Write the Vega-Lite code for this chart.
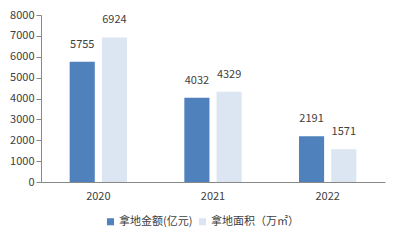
{
  "$schema": "https://vega.github.io/schema/vega-lite/v6.json",
  "width": 344,
  "height": 167,
  "autosize": {"type": "none"},
  "padding": {"left": 41, "top": 15, "right": 16, "bottom": 60},
  "background": "white",
  "config": {
    "view": {"stroke": null},
    "font": "Noto Sans CJK SC",
    "axis": {"labelFont": "Noto Sans CJK SC", "labelColor": "#404040", "labelFontSize": 11, "domainColor": "#888888", "tickColor": "#888888", "grid": false, "title": null}
  },
  "data": {
    "values": [
      {"year": "2020", "series": "拿地金额(亿元)", "value": 5755},
      {"year": "2020", "series": "拿地面积（万㎡）", "value": 6924},
      {"year": "2021", "series": "拿地金额(亿元)", "value": 4032},
      {"year": "2021", "series": "拿地面积（万㎡）", "value": 4329},
      {"year": "2022", "series": "拿地金额(亿元)", "value": 2191},
      {"year": "2022", "series": "拿地面积（万㎡）", "value": 1571}
    ]
  },
  "encoding": {
    "x": {"field": "year", "type": "nominal", "scale": {"paddingInner": 0.5, "paddingOuter": 0.25},
      "axis": {"labelAngle": 0, "ticks": false, "labelPadding": 8}},
    "xOffset": {"field": "series", "type": "nominal", "sort": ["拿地金额(亿元)", "拿地面积（万㎡）"], "scale": {"paddingInner": 0.22}},
    "y": {"field": "value", "type": "quantitative", "scale": {"domain": [0, 8000]},
      "axis": {"values": [0,1000,2000,3000,4000,5000,6000,7000,8000], "format": "d", "tickSize": 5, "labelPadding": 2}}
  },
  "layer": [
    {
      "mark": {"type": "bar"},
      "encoding": {
        "color": {"field": "series", "type": "nominal", "sort": ["拿地金额(亿元)", "拿地面积（万㎡）"],
          "scale": {"range": ["#4f81bd", "#dce6f2"]},
          "legend": {"title": null, "orient": "none", "direction": "horizontal", "legendX": 64, "legendY": 201,
            "symbolType": "square", "symbolSize": 50, "labelFontSize": 11, "labelColor": "#404040", "labelFont": "Noto Sans CJK SC", "columnPadding": 4, "symbolOffset": 0, "labelOffset": 3}}
      }
    },
    {
      "mark": {"type": "text", "dy": -12, "baseline": "bottom", "fontSize": 11, "color": "#404040", "font": "Noto Sans CJK SC"},
      "encoding": {"text": {"field": "value", "type": "quantitative", "format": "d"}}
    }
  ]
}
